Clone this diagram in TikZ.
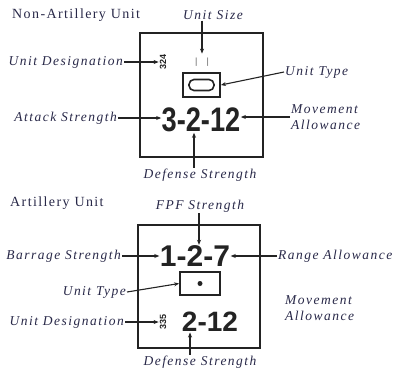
\documentclass[tikz,border=0pt]{standalone}
\usepackage{fontspec}
\setmainfont{Liberation Serif}
\setsansfont{Liberation Sans}
\newfontfamily\lblfont[LetterSpace=11]{Liberation Serif}
\newfontfamily\ttlfont[LetterSpace=10]{Liberation Serif}
\usetikzlibrary{arrows.meta, positioning, calc}
\definecolor{ink}{RGB}{40,40,72}
\definecolor{cline}{RGB}{35,35,35}
\tikzset{
  lbl/.style={font=\lblfont\itshape\fontsize{13.5}{16}\selectfont, text=ink,
              inner sep=1pt, align=left},
  ttl/.style={font=\ttlfont\fontsize{14}{15}\selectfont, text=ink, inner sep=0pt},
  counter/.style={rectangle, draw=cline, line width=2pt, fill=white},
  typebox/.style={rectangle, draw=cline, line width=1.8pt},
  vals/.style={font=\sffamily\bfseries, text=cline, inner sep=0.5pt},
  desig/.style={font=\sffamily\bfseries\fontsize{9}{9}\selectfont, text=cline,
                rotate=90, inner sep=1pt},
  arr/.style={-{Stealth[length=5pt, width=4pt]}, line width=1.1pt, draw=cline},
}

\begin{document}
\begin{tikzpicture}[x=1pt, y=-1pt]
  \useasboundingbox (0,0) rectangle (396,373);
  % non-artillery unit
  \node[ttl, anchor=west] (title1) at (12,15) {Non-Artillery Unit};
  \node[counter, minimum width=123pt, minimum height=124pt] (cnt1) at (201.5,95) {};
  \node[lbl] (sizelbl) at (213,15) {Unit Size};
  \node[font=\sffamily\fontsize{9}{9}\selectfont, text=cline!70, inner sep=1pt] (size1) at (202,62) {|\hspace{9pt}|};
  \node[desig] (desig1) at (163,62) {324};
  \node[lbl, anchor=east] (desiglbl1) at (124,62) {Unit Designation};
  \node[typebox, minimum width=37pt, minimum height=24pt] (type1) at (201.5,85) {};
  \node[draw=cline, line width=1.6pt, rounded corners=5pt,
        minimum width=25pt, minimum height=11pt] (oval1) at (type1.center) {};
  \node[lbl, anchor=west] (typelbl1) at (284,72) {Unit Type};
  \node[vals, font=\sffamily\bfseries\fontsize{34}{34}\selectfont, xscale=0.8] (vals1) at (201,120) {3-2-12};
  \node[lbl, anchor=east] (atklbl) at (118,118) {Attack Strength};
  \node[lbl, anchor=west] (movelbl1) at (290,117) {Movement\\Allowance};
  \node[lbl] (deflbl1) at (200,175) {Defense Strength};
  \draw[arr] (sizelbl.south -| size1) -- ([yshift=3pt]size1.north);
  \draw[arr] (desiglbl1.east) -- (desig1);
  \draw[arr] (typelbl1.west) -- (type1.east);
  \draw[arr] (atklbl.east) -- (atklbl.east -| vals1.west);
  \draw[arr] (movelbl1.west) -- (movelbl1.west -| vals1.east);
  \draw[arr] ([xshift=-6pt]deflbl1.north) -- ([xshift=-6pt]deflbl1.north |- vals1.south);

  % artillery unit
  \node[ttl, anchor=west] (title2) at (10,203) {Artillery Unit};
  \node[counter, minimum width=122pt, minimum height=123pt] (cnt2) at (199,286.5) {};
  \node[lbl] (fpflbl) at (200,206) {FPF Strength};
  \node[vals, font=\sffamily\bfseries\fontsize{30}{30}\selectfont] (vals2) at (195,256) {1-2-7};
  \node[lbl, anchor=east] (barlbl) at (122,256) {Barrage Strength};
  \node[lbl, anchor=west] (rnglbl) at (277,256) {Range Allowance};
  \node[typebox, minimum width=40pt, minimum height=23pt] (type2) at (200,283.5) {};
  \node[circle, fill=cline, inner sep=0pt, minimum size=5pt] (dot2) at (type2.center) {};
  \node[lbl, anchor=east] (typelbl2) at (127,292) {Unit Type};
  \node[desig] (desig2) at (163,322) {335};
  \node[vals, font=\sffamily\bfseries\fontsize{28}{28}\selectfont] (vals3) at (210,322) {2-12};
  \node[lbl, anchor=east] (desiglbl2) at (125,322) {Unit Designation};
  \node[lbl, anchor=west] (movelbl2) at (284,308) {Movement\\Allowance};
  \node[lbl] (deflbl2) at (200,362) {Defense Strength};
  \draw[arr] ([xshift=-1pt]fpflbl.south) -- ([xshift=-1pt]fpflbl.south |- vals2.north);
  \draw[arr] (barlbl.east) -- (barlbl.east -| vals2.west);
  \draw[arr] (rnglbl.west) -- (rnglbl.west -| vals2.east);
  \draw[arr] (typelbl2.east) -- (type2.west);
  \draw[arr] (desiglbl2.east) -- (desig2);
  \draw[arr] ([xshift=-10pt]deflbl2.north) -- ([xshift=-10pt]deflbl2.north |- vals3.south);
\end{tikzpicture}
\end{document}
